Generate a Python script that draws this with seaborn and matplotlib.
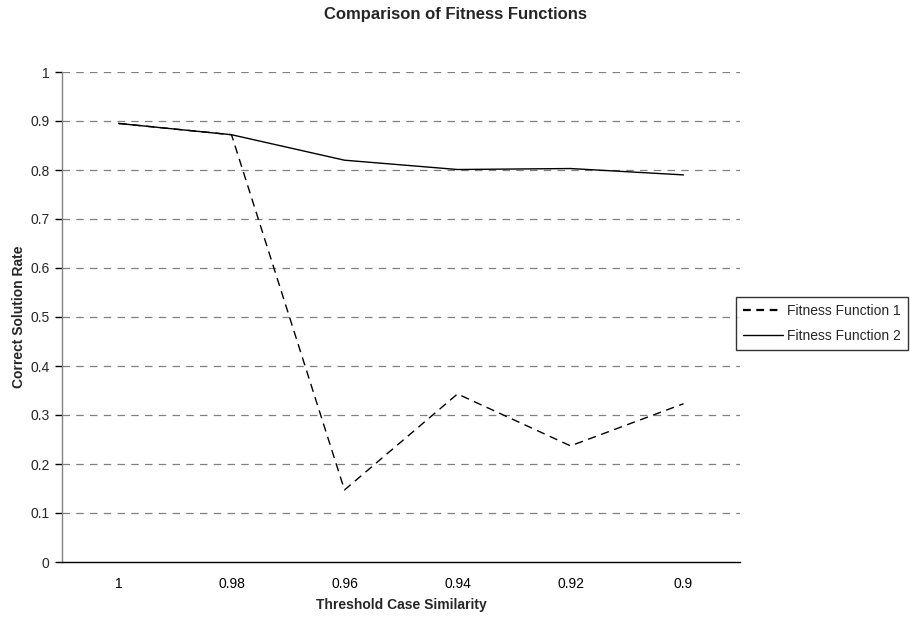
import matplotlib
matplotlib.use("Agg")
import matplotlib.pyplot as plt
import seaborn as sns
import pandas as pd
import numpy as np
from matplotlib.lines import Line2D

categories = ["1", "0.98", "0.96", "0.94", "0.92", "0.9"]
ff1 = [0.895, 0.872, 0.147, 0.343, 0.237, 0.323]
ff2 = [0.895, 0.872, 0.820, 0.801, 0.803, 0.790]
series_names = ["Fitness Function 1", "Fitness Function 2"]

sns.set_theme(style="white")
plt.rcParams['font.family'] = ['Liberation Sans', 'DejaVu Sans']

pos = list(range(len(categories)))
df = pd.DataFrame({
    "pos": pos * 2,
    "value": ff1 + ff2,
    "series": [series_names[0]] * len(pos) + [series_names[1]] * len(pos),
})

fig = plt.figure(figsize=(9.1, 6.2), dpi=100)
ax = fig.add_axes([62/910, 58/620, (740-62)/910, (562-72)/620])

sns.lineplot(data=df, x="pos", y="value", hue="series", style="series",
             palette=["black", "black"], dashes=[(6, 4), ""], linewidth=1.0,
             ax=ax, legend=False)

ax.set_xlim(-0.5, len(categories) - 0.5)
ax.set_ylim(0, 1)
ax.set_yticks(np.arange(0, 1.01, 0.1))
ax.set_yticklabels(["0"] + [f"{v:.1f}" for v in np.arange(0.1, 0.95, 0.1)] + ["1"])
ax.set_xticks(pos)
ax.set_xticklabels(categories)
ax.set_xticks(np.arange(-0.5, len(categories), 1.0), minor=True)
ax.tick_params(axis="x", which="major", length=0, pad=11, labelsize=10, colors="black")
ax.tick_params(axis="x", which="minor", length=5, width=1, direction="out", color="black")
ax.tick_params(axis="y", which="major", length=5, width=1, direction="out", color="black",
               labelsize=10, pad=4)
ax.tick_params(axis="both", bottom=True, left=True)

for y in np.arange(0.1, 1.01, 0.1):
    ax.axhline(y, color="#808080", linestyle=(0, (6, 5)), linewidth=0.9, zorder=0)

for s in ["top", "right"]:
    ax.spines[s].set_visible(False)
ax.spines["left"].set_color("#808080")
ax.spines["left"].set_linewidth(1.0)
ax.spines["bottom"].set_color("black")
ax.spines["bottom"].set_linewidth(1.0)

ax.set_xlabel("Threshold Case Similarity", fontsize=10, fontweight="bold", labelpad=5)
ax.set_ylabel("Correct Solution Rate", fontsize=10, fontweight="bold", labelpad=3)
fig.text(0.5, 1 - 14/620, "Comparison of Fitness Functions", ha="center", va="center",
         fontsize=12, fontweight="bold")

handles = [Line2D([], [], color="black", linestyle=(0, (3.5, 2.5)), linewidth=1.6),
           Line2D([], [], color="black", linestyle="-", linewidth=1.0)]
leg = fig.legend(handles, series_names, loc="center left",
                 bbox_to_anchor=(736/910, 1 - 323.5/620), frameon=True, fontsize=10,
                 handlelength=2.9, handletextpad=0.25, borderpad=0.5, labelspacing=0.75,
                 fancybox=False, borderaxespad=0)
leg.get_frame().set_edgecolor("black")
leg.get_frame().set_linewidth(1.0)

fig.savefig("out.png", dpi=100)
